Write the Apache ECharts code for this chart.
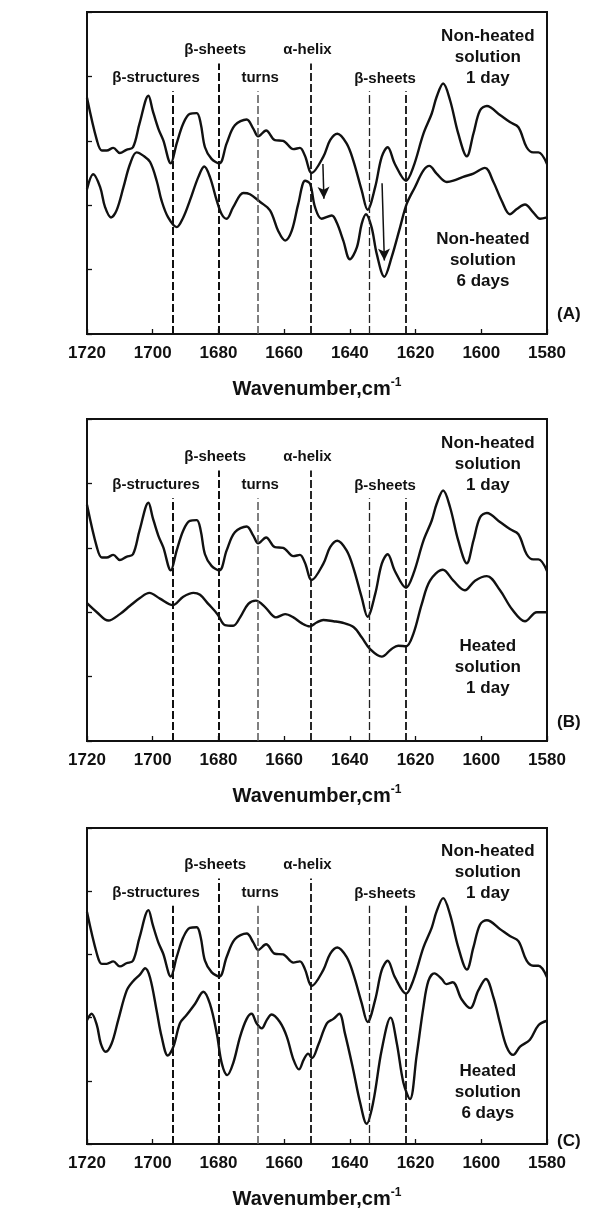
<!DOCTYPE html>
<html>
<head>
<meta charset="utf-8">
<script src="https://cdn.jsdelivr.net/npm/echarts@6/dist/echarts.min.js"></script>
<style>
  html, body { margin: 0; padding: 0; background: #fff; }
  #chart { width: 592px; height: 1214px; }
</style>
</head>
<body>
<div id="chart"></div>
<script>
// Second-derivative amide I spectra: [wavenumber (cm-1), relative intensity]
const nonHeated1Day = [
  [1720, 3.67], [1717, 3.01], [1715.5, 2.85], [1714, 2.85], [1712, 2.89], [1710, 2.81],
  [1708, 2.86], [1706, 2.90], [1704, 3.27], [1701.3, 3.70], [1700, 3.47], [1698.3, 3.19],
  [1696.8, 3.01], [1694.5, 2.65], [1692.7, 2.96], [1690.7, 3.27], [1688.7, 3.42], [1686.6, 3.43],
  [1685.4, 3.27], [1684.1, 2.90], [1682.1, 2.72], [1679.7, 2.65], [1677.5, 2.96], [1675, 3.24],
  [1671.4, 3.33], [1669.4, 3.19], [1667.9, 3.07], [1665.5, 3.16], [1662.8, 3.01], [1660.3, 3.00],
  [1657.2, 2.87], [1655.2, 2.89], [1653.7, 2.77], [1651.6, 2.50], [1648.1, 2.75], [1646, 3.01],
  [1643.8, 3.11], [1641, 2.96], [1639, 2.70], [1636.4, 2.23], [1634.6, 1.93], [1632.3, 2.28],
  [1630.3, 2.75], [1628.5, 2.90], [1626.3, 2.64], [1622.9, 2.38], [1620.7, 2.59], [1617.6, 3.11],
  [1615.1, 3.42], [1613.6, 3.68], [1611.6, 3.89], [1609.5, 3.63], [1607, 3.11], [1604.4, 2.76],
  [1602.4, 3.11], [1600.4, 3.47], [1598.3, 3.54], [1594.3, 3.40], [1591.3, 3.29], [1588.7, 3.21],
  [1586.2, 2.90], [1584.2, 2.82], [1582.6, 2.82], [1580, 2.64]
];

const nonHeated6Days = [
  [1720, 2.25], [1718.1, 2.48], [1716, 2.28], [1714.5, 1.97], [1712.7, 1.81], [1711, 1.92],
  [1708.9, 2.28], [1706.9, 2.64], [1704.9, 2.82], [1702.9, 2.77], [1700.8, 2.67], [1698.8, 2.38],
  [1697.3, 2.07], [1695.3, 1.81], [1692.7, 1.66], [1690.7, 1.81], [1688.7, 2.07], [1686.1, 2.44],
  [1684.3, 2.60], [1682.6, 2.44], [1680.5, 2.07], [1679, 1.86], [1677.5, 1.79], [1675.5, 1.97],
  [1672.4, 2.19], [1670.4, 2.17], [1667.3, 2.05], [1664.3, 1.92], [1661.8, 1.60], [1659.7, 1.45],
  [1657.7, 1.60], [1655.7, 2.02], [1653.6, 2.38], [1652.1, 2.33], [1650.6, 1.97], [1648.6, 1.79],
  [1645.5, 1.84], [1644, 1.73], [1642, 1.45], [1640, 1.16], [1637.9, 1.34], [1636.4, 1.71],
  [1635.1, 1.86], [1633.4, 1.66], [1631.8, 1.24], [1629.5, 0.89], [1627.3, 1.19], [1624.7, 1.66],
  [1622.7, 2.02], [1620.2, 2.28], [1617.6, 2.54], [1615.8, 2.61], [1613.6, 2.49], [1610.5, 2.36],
  [1608.5, 2.38], [1605.5, 2.44], [1602.4, 2.49], [1598.9, 2.58], [1596.3, 2.36], [1593.8, 2.07],
  [1591.3, 1.86], [1589.2, 1.94], [1586.7, 2.01], [1584.2, 1.89], [1582.1, 1.79], [1580, 1.81]
];

const heated1Day = [
  [1720, 2.14], [1717, 2.00], [1713.5, 1.87], [1710, 1.97], [1706.9, 2.10], [1703.9, 2.22],
  [1701, 2.30], [1697.8, 2.21], [1693.9, 2.11], [1690.7, 2.24], [1687.6, 2.30], [1685.6, 2.27],
  [1683.1, 2.13], [1680.3, 1.97], [1678, 1.80], [1675.5, 1.79], [1673.4, 1.92], [1670.9, 2.13],
  [1668.6, 2.18], [1665.8, 2.08], [1662.5, 1.92], [1659.7, 1.97], [1657.2, 1.92], [1654.7, 1.83],
  [1652.2, 1.78], [1650.1, 1.84], [1648.1, 1.88], [1645, 1.86], [1642.5, 1.84], [1638.9, 1.77],
  [1636.4, 1.61], [1633.9, 1.43], [1630.3, 1.31], [1627.3, 1.43], [1625.3, 1.48], [1622.9, 1.47],
  [1620.7, 1.66], [1618.1, 2.13], [1615.6, 2.49], [1611.7, 2.66], [1608.5, 2.49], [1605, 2.34],
  [1601.9, 2.49], [1598.3, 2.56], [1594.3, 2.34], [1590.7, 2.05], [1586.7, 1.86], [1583.1, 2.00],
  [1580, 2.00]
];

const heated6Days = [
  [1720, 1.96], [1718.6, 2.06], [1717, 1.88], [1715.8, 1.59], [1714.3, 1.46], [1712.5, 1.59],
  [1710.5, 1.96], [1707.9, 2.43], [1705.9, 2.58], [1703.9, 2.68], [1702.3, 2.78], [1700.8, 2.63],
  [1698.8, 2.11], [1697.3, 1.70], [1695.4, 1.40], [1693.7, 1.54], [1691.7, 1.91], [1689.7, 2.04],
  [1687.1, 2.22], [1684.6, 2.41], [1682.6, 2.22], [1680.5, 1.75], [1679, 1.28], [1677.3, 1.09],
  [1675.5, 1.28], [1673.4, 1.70], [1671.4, 1.98], [1669.9, 2.06], [1668.4, 1.91], [1666.8, 1.83],
  [1665.3, 1.96], [1663.8, 2.05], [1661.3, 1.93], [1659.2, 1.70], [1657.2, 1.34], [1655.5, 1.18],
  [1654, 1.34], [1652.7, 1.43], [1651.5, 1.36], [1649.6, 1.57], [1647, 1.91], [1645, 1.98],
  [1643.2, 2.06], [1641.5, 1.75], [1639, 1.18], [1636.9, 0.66], [1634.9, 0.32], [1632.9, 0.66],
  [1630.3, 1.49], [1627.6, 2.00], [1625.7, 1.59], [1623.7, 0.97], [1621.7, 0.71], [1619.7, 1.39],
  [1617.6, 2.17], [1616.1, 2.58], [1614.3, 2.70], [1612, 2.61], [1610.7, 2.53], [1608.7, 2.56],
  [1606, 2.29], [1603.4, 2.15], [1600.9, 2.43], [1598.6, 2.61], [1596.3, 2.32], [1594.3, 1.91],
  [1592.3, 1.54], [1590.3, 1.41], [1588.2, 1.54], [1585.2, 1.65], [1582.6, 1.88], [1580, 1.95]
];

// Band assignment markers (cm-1) and the height each dashed line reaches
const bandPositions = [1694, 1680, 1668, 1652, 1634, 1623];
const bandTops = [3.77, 4.20, 3.77, 4.20, 3.77, 3.77];
const bandNames = ['β-structures', 'β-sheets', 'turns', 'α-helix', 'β-sheets'];

// Axis ticks
const xTicks = { min: 1580, max: 1720, step: 20 };
const yTicks = { min: 0, max: 5, step: 1 };

const panelLetters = ['(A)', '(B)', '(C)'];
const upperCaption = 'Non-heated\nsolution\n1 day';
const lowerCaptions = ['Non-heated\nsolution\n6 days', 'Heated\nsolution\n1 day', 'Heated\nsolution\n6 days'];
const lowerSpectra = [nonHeated6Days, heated1Day, heated6Days];

const FONT = '"Liberation Sans", Arial, Helvetica, sans-serif';
const INK = '#111';

// Panel frames in pixels
const panelTops = [12, 419, 828];
const panelHeight = 322;

// Where each band label and spectrum caption sits (wavenumber, intensity)
const bandLabelAt = [[1699.0, 3.97], [1681.0, 4.41], [1667.3, 3.97], [1652.9, 4.41], [1629.3, 3.96]];
const upperCaptionAt = [1598.0, 4.30];
const lowerCaptionAt = [[1599.5, 1.15], [1598.0, 1.14], [1598.0, 0.81]];
const bandStyle = [
  { width: 2.0, color: '#111' },
  { width: 2.0, color: '#111' },
  { width: 1.5, color: '#555' },
  { width: 1.8, color: '#111' },
  { width: 1.3, color: '#222' },
  { width: 1.8, color: '#111' }
];

const grids = [], xAxes = [], yAxes = [], series = [];

panelTops.forEach((top, i) => {
  grids.push({
    left: 87, right: 45, top: top, height: panelHeight,
    show: true, borderColor: INK, borderWidth: 2, backgroundColor: 'transparent'
  });

  xAxes.push({
    gridIndex: i, type: 'value', inverse: true,
    min: xTicks.min, max: xTicks.max, interval: xTicks.step,
    axisLine: { show: true, lineStyle: { color: INK, width: 2 } },
    axisTick: { show: true, inside: true, length: 5, lineStyle: { color: INK, width: 1.3 } },
    axisLabel: {
      margin: 11, color: INK, fontSize: 17, fontWeight: 'bold', fontFamily: FONT,
      formatter: v => String(v)
    },
    splitLine: { show: false },
    name: '{a|Wavenumber,cm}{b|-1}',
    nameLocation: 'middle', nameGap: 43,
    nameTextStyle: {
      rich: {
        a: { fontSize: 20, fontWeight: 'bold', fontFamily: FONT, color: INK, lineHeight: 24 },
        b: { fontSize: 12, fontWeight: 'bold', fontFamily: FONT, color: INK, verticalAlign: 'top', lineHeight: 24, padding: [0, 0, 14, 0] }
      }
    }
  });

  yAxes.push({
    gridIndex: i, type: 'value',
    min: yTicks.min, max: yTicks.max, interval: yTicks.step,
    axisLine: { show: true, lineStyle: { color: INK, width: 2 } },
    axisTick: { show: true, inside: true, length: 5, lineStyle: { color: INK, width: 1.3 } },
    axisLabel: { show: false },
    splitLine: { show: false }
  });

  // Dashed band markers
  const bandLines = bandPositions.map((w, k) => [
    { coord: [w, yTicks.min], lineStyle: { type: [8, 3], width: bandStyle[k].width, color: bandStyle[k].color } },
    { coord: [w, bandTops[k]] }
  ]);

  const arrows = i === 0 ? [
    [{ coord: [1648.2, 2.64] }, { coord: [1647.9, 2.10] }],
    [{ coord: [1630.2, 2.34] }, { coord: [1629.5, 1.14] }]
  ] : [];

  series.push({
    type: 'line', xAxisIndex: i, yAxisIndex: i,
    data: nonHeated1Day, smooth: 0.35, showSymbol: false, symbol: 'none',
    lineStyle: { color: INK, width: 2.4 }, z: 3,
    markLine: {
      silent: true, symbol: 'none', animation: false,
      label: { show: false },
      data: bandLines
    }
  });

  series.push({
    type: 'line', xAxisIndex: i, yAxisIndex: i,
    data: lowerSpectra[i], smooth: 0.35, showSymbol: false, symbol: 'none',
    lineStyle: { color: INK, width: 2.4 }, z: 3,
    markLine: {
      silent: true, animation: false,
      symbol: ['none', 'arrow'], symbolSize: [9, 12],
      label: { show: false },
      lineStyle: { type: 'solid', color: INK, width: 1.5 },
      data: arrows
    }
  });

  // Band labels and spectrum captions
  const textItems = bandLabelAt.map((p, k) => ({
    value: p,
    label: { formatter: bandNames[k], fontSize: 15 }
  }));
  textItems.push({ value: upperCaptionAt, label: { formatter: upperCaption, fontSize: 17, lineHeight: 21 } });
  textItems.push({ value: lowerCaptionAt[i], label: { formatter: lowerCaptions[i], fontSize: 17, lineHeight: 21 } });

  series.push({
    type: 'scatter', xAxisIndex: i, yAxisIndex: i,
    symbolSize: 1, itemStyle: { color: 'rgba(0,0,0,0)', opacity: 1 }, silent: true,
    label: {
      show: true, position: 'inside', align: 'center', verticalAlign: 'middle',
      color: INK, fontWeight: 'bold', fontFamily: FONT, opacity: 1
    },
    data: textItems, z: 5
  });
});

const graphics = panelLetters.map((t, i) => ({
  type: 'text', left: 557, top: panelTops[i] + [294, 295, 305][i],
  style: { text: t, font: 'bold 17px ' + FONT, fill: INK }
}));

const chart = echarts.init(document.getElementById('chart'), null, { renderer: 'canvas' });
chart.setOption({
  animation: false,
  backgroundColor: '#fff',
  grid: grids,
  xAxis: xAxes,
  yAxis: yAxes,
  series: series,
  graphic: graphics
});
</script>
</body>
</html>
